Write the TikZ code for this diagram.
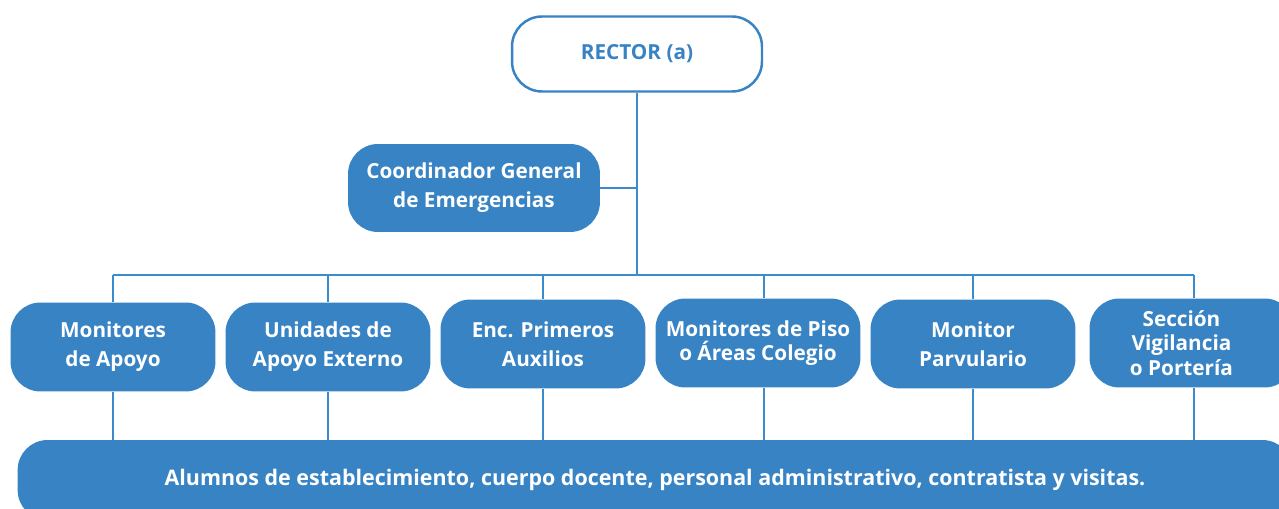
\documentclass[tikz,border=0pt]{standalone}
\usepackage{fontspec}
\setmainfont{Open Sans}
\definecolor{orgblue}{RGB}{55,131,196}
\definecolor{linkblue}{RGB}{60,140,205}
\begin{document}
\begin{tikzpicture}[x=0.02cm,y=-0.02cm]
    \tikzstyle{block}=[fill=orgblue,text=white,align=center,rounded corners=0.6cm,
        minimum width=4.1cm,minimum height=1.78cm,inner sep=2pt,
        font=\bfseries\fontsize{11.8}{16.5}\selectfont]
    \tikzstyle{tight}=[font=\bfseries\fontsize{11.8}{13.8}\selectfont]
    \tikzstyle{link}=[draw=linkblue,line width=0.6pt]

    \clip (0,0) rectangle (1279,509);
    \useasboundingbox (0,0) rectangle (1279,509);

    \node[draw=orgblue,line width=1.4pt,fill=white,text=orgblue,rounded corners=0.6cm,
        minimum width=5.0cm,minimum height=1.5cm,font=\bfseries\fontsize{11.8}{14}\selectfont]
        (rector) at (637,54) {RECTOR (a)};
    \node[block,minimum width=5.04cm,minimum height=1.76cm] (coord) at (474,188) {Coordinador General\\de Emergencias};

    \node[block] (apoyo) at (113,347) {Monitores\\de Apoyo};
    \node[block] (externo) at (328,347) {Unidades de\\Apoyo Externo};
    \node[block] (auxilios) at (543,344) {Enc. Primeros\\Auxilios};
    \node[block,tight] (piso) at (758,343) {Monitores de Piso\\o Áreas Colegio};
    \node[block] (parvulario) at (973,344) {Monitor\\Parvulario};
    \node[block,tight] (porteria) at (1192,343) {\hspace*{-12pt}Sección\\\hspace*{-12pt}Vigilancia\\\hspace*{-12pt}o Portería};

    \node[block,minimum width=25.5cm,minimum height=1.6cm,text depth=0pt,
        font=\bfseries\fontsize{12.2}{14}\selectfont] (alumnos) at (655,480)
        {\raisebox{0.5ex}{Alumnos de establecimiento, cuerpo docente, personal administrativo, contratista y visitas.}};

    \coordinate (bus) at (637,275);

    \draw[link] (rector.south) -- (bus);
    \draw[link] (coord.east) -- (coord.east -| bus);
    \draw[link] (apoyo.north |- bus) -- (1194,275);
    \foreach \n/\xx in {apoyo/113,externo/328,auxilios/543,piso/764,parvulario/973,porteria/1194} {
        \draw[link] (\xx,275) -- (\xx,\xx |- \n.north);
        \draw[link] (\xx,\xx |- \n.south) -- (\xx,\xx |- alumnos.north);
    }
\end{tikzpicture}
\end{document}
